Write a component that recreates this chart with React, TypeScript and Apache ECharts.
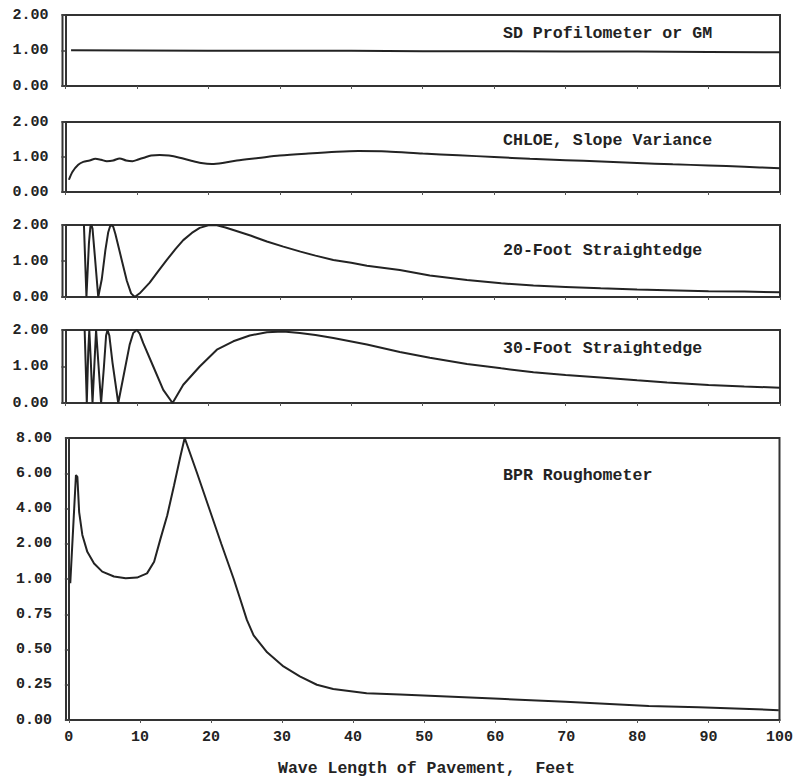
import React, { useEffect, useRef } from "react";
import * as echarts from "echarts";

// ---- data (wave length in feet, response gain) ----
const X_TICKS = [0, 10, 20, 30, 40, 50, 60, 70, 80, 90, 100];
const X_MIN = -0.4;
const PANEL_TITLES = [
  "SD Profilometer or GM",
  "CHLOE, Slope Variance",
  "20-Foot Straightedge",
  "30-Foot Straightedge",
  "BPR Roughometer",
];
const X_AXIS_TITLE = "Wave Length of Pavement,  Feet";

const sdProfilometer: [number, number][] = [
  [0.8, 1.01], [10, 1.0], [20, 0.99], [30, 0.99], [40, 0.99], [50, 0.98],
  [60, 0.98], [70, 0.97], [80, 0.97], [90, 0.96], [100, 0.95],
];

const chloe: [number, number][] = [
  [0.5, 0.35], [1, 0.58], [1.8, 0.78], [2.5, 0.86], [3.4, 0.9], [4.2, 0.95],
  [5, 0.92], [5.8, 0.88], [6.7, 0.9], [7.6, 0.96], [8.5, 0.9], [9.4, 0.88],
  [10.2, 0.93], [11, 0.98], [12, 1.04], [13.2, 1.06], [14.5, 1.04], [16, 0.98],
  [17.5, 0.9], [19, 0.83], [20.5, 0.8], [22, 0.83], [24, 0.9], [27, 0.97],
  [30, 1.04], [34, 1.1], [38, 1.15], [41, 1.17], [45, 1.16], [50, 1.1],
  [55, 1.05], [60, 1.0], [65, 0.95], [70, 0.91], [75, 0.87], [80, 0.83],
  [85, 0.79], [90, 0.76], [95, 0.72], [100, 0.68],
];

const straightedge20: [number, number][] = [
  [2.6, 2.0], [2.95, 0], [3.3, 1.5], [3.5, 1.95], [3.65, 2.0], [3.8, 1.9],
  [4.1, 1.2], [4.6, 0], [5.1, 0.5], [5.6, 1.3], [6.0, 1.8], [6.25, 1.96],
  [6.45, 2.0], [6.7, 1.95], [7.0, 1.75], [7.8, 1.1], [8.6, 0.45], [9.2, 0.1],
  [9.7, 0], [10.5, 0.12], [11.8, 0.4], [13, 0.72], [14.2, 1.03], [15.4, 1.33],
  [16.5, 1.58], [17.7, 1.78], [18.8, 1.92], [20, 1.99], [21.2, 1.99],
  [22.4, 1.93], [23.5, 1.86], [26, 1.7], [28.2, 1.54], [30.5, 1.4],
  [32.9, 1.26], [35, 1.15], [37.5, 1.03], [40, 0.95], [42.2, 0.87],
  [46.8, 0.75], [51, 0.6], [56.2, 0.47], [61, 0.38], [65.5, 0.32], [70, 0.28],
  [74.9, 0.24], [80, 0.21], [84.2, 0.19], [90, 0.16], [95, 0.15], [100, 0.13],
];

const straightedge30: [number, number][] = [
  [2.7, 2.0], [3.0, 0], [3.2, 1.4], [3.35, 2.0], [3.55, 1.2], [3.8, 0],
  [4.05, 1.0], [4.3, 2.0], [4.65, 1.0], [5.0, 0], [5.4, 1.0], [5.7, 1.85],
  [5.9, 2.0], [6.15, 1.85], [6.6, 1.1], [7.4, 0], [8.1, 0.7], [9.0, 1.6],
  [9.5, 1.92], [10, 2.0], [10.4, 1.9], [10.9, 1.64], [12.3, 1.0],
  [13.7, 0.36], [15, 0], [16.5, 0.5], [18.8, 1.0], [21.2, 1.46], [23.5, 1.69],
  [25.8, 1.85], [28.2, 1.94], [30.5, 1.96], [32.8, 1.92], [35, 1.86],
  [37.5, 1.78], [42.2, 1.6], [46.8, 1.4], [51, 1.24], [56.2, 1.07], [61, 0.95],
  [65.5, 0.84], [70, 0.77], [74.9, 0.7], [80, 0.62], [84.2, 0.56], [90, 0.49],
  [95, 0.45], [100, 0.42],
];

const bprRoughometer: [number, number][] = [
  [0.2, 0.97], [1.0, 5.9], [1.2, 5.8], [1.45, 3.8], [1.9, 2.5], [2.6, 1.77],
  [3.55, 1.44], [4.7, 1.21], [6.35, 1.07], [8.0, 1.02], [9.6, 1.04],
  [11.0, 1.16], [12.0, 1.49], [12.9, 2.29], [13.85, 3.62], [14.8, 5.3],
  [15.7, 6.96], [16.3, 8.0], [18.05, 6.0], [19.75, 4.0], [21.45, 2.0],
  [23.2, 1.0], [24.1, 0.86], [25.05, 0.71], [26.0, 0.6], [27.9, 0.48],
  [30.2, 0.38], [32.5, 0.31], [34.9, 0.25], [37.2, 0.22], [41.9, 0.19],
  [46.6, 0.18], [60.6, 0.15], [69.9, 0.13], [81.6, 0.1], [88.6, 0.09],
  [99.9, 0.07],
];

const SMALL_Y_TICKS = [0, 1, 2];
const BPR_TICK_VALUES = [0, 0.25, 0.5, 0.75, 1, 2, 4, 6, 8];
const BPR_TICK_LABELS = ["0.00", "0.25", "0.50", "0.75", "1.00", "2.00", "4.00", "6.00", "8.00"];

// piecewise-linear scale for the BPR panel: each tick is one equal step
function bprScale(v: number): number {
  const b = BPR_TICK_VALUES;
  if (v <= b[0]) return 0;
  for (let i = 0; i < b.length - 1; i++) {
    if (v <= b[i + 1]) return i + (v - b[i]) / (b[i + 1] - b[i]);
  }
  return b.length - 1;
}

const FONT = "'Liberation Mono', 'DejaVu Sans Mono', monospace";
const INK = "#232323";

export default function App() {
  const ref = useRef<HTMLDivElement>(null);

  useEffect(() => {
    if (!ref.current) return;
    const chart = echarts.init(ref.current, undefined, { renderer: "svg" });

    const grids = [
      { top: 15, height: 71, left: 62.5, right: 16 },
      { top: 122, height: 70, left: 62.5, right: 16 },
      { top: 225, height: 72, left: 62.5, right: 16 },
      { top: 330, height: 73, left: 62.5, right: 16 },
      { top: 438, height: 282, left: 66, right: 14 },
    ].map((g) => ({
      ...g,
      show: true,
      borderColor: "#333",
      borderWidth: 2,
      containLabel: false,
    }));

    const seriesData = [
      sdProfilometer,
      chloe,
      straightedge20,
      straightedge30,
      bprRoughometer.map(([x, y]) => [x, bprScale(y)]),
    ];

    const xAxes = grids.map((_, i) => ({
      type: "value",
      gridIndex: i,
      min: X_MIN,
      max: X_TICKS[X_TICKS.length - 1],
      axisLine: { show: true, lineStyle: { color: "#333", width: 2 } },
      axisTick: {
        show: true,
        length: 3,
        customValues: X_TICKS,
        lineStyle: { color: "#555", width: 1 },
      },
      splitLine: { show: false },
      axisLabel: {
        show: i === 4,
        customValues: X_TICKS,
        margin: 10,
        fontFamily: FONT,
        fontSize: 15,
        fontWeight: "bold",
        color: INK,
      },
    }));

    const yAxes = grids.map((_, i) => ({
      type: "value",
      gridIndex: i,
      min: 0,
      max: i === 4 ? BPR_TICK_VALUES.length - 1 : SMALL_Y_TICKS[SMALL_Y_TICKS.length - 1],
      interval: 1,
      axisLine: { show: true, lineStyle: { color: "#333", width: 2 } },
      axisTick: { show: true, length: 4, lineStyle: { color: "#444", width: 1.5 } },
      splitLine: { show: false },
      axisLabel: {
        margin: 14,
        fontFamily: FONT,
        fontSize: 15,
        fontWeight: "bold",
        color: INK,
        formatter: (v: number) =>
          i === 4 ? BPR_TICK_LABELS[Math.round(v)] ?? "" : v.toFixed(2),
      },
    }));

    const titleTops = [25, 132, 242, 340, 467];
    const titles = PANEL_TITLES.map((t, i) => ({
      text: t,
      left: 503,
      top: titleTops[i],
      padding: 0,
      textStyle: {
        fontFamily: FONT,
        fontSize: 16.6,
        fontWeight: "bold",
        color: INK,
      },
    }));

    chart.setOption({
      animation: false,
      backgroundColor: "#ffffff",
      title: titles,
      grid: grids,
      xAxis: xAxes,
      yAxis: yAxes,
      series: seriesData.map((d, i) => ({
        type: "line",
        xAxisIndex: i,
        yAxisIndex: i,
        data: d,
        showSymbol: false,
        symbol: "none",
        clip: true,
        smooth: i === 1 ? 0.3 : false,
        lineStyle: { color: INK, width: 2 },
      })),
      graphic: [
        {
          type: "text",
          left: 278,
          top: 760,
          style: {
            text: X_AXIS_TITLE,
            font: `bold 16.5px ${FONT}`,
            fill: INK,
          },
        },
      ],
    });

    return () => chart.dispose();
  }, []);

  return (
    <div
      ref={ref}
      style={{ position: "fixed", left: 0, top: 0, width: 796, height: 777, background: "#fff" }}
    />
  );
}
